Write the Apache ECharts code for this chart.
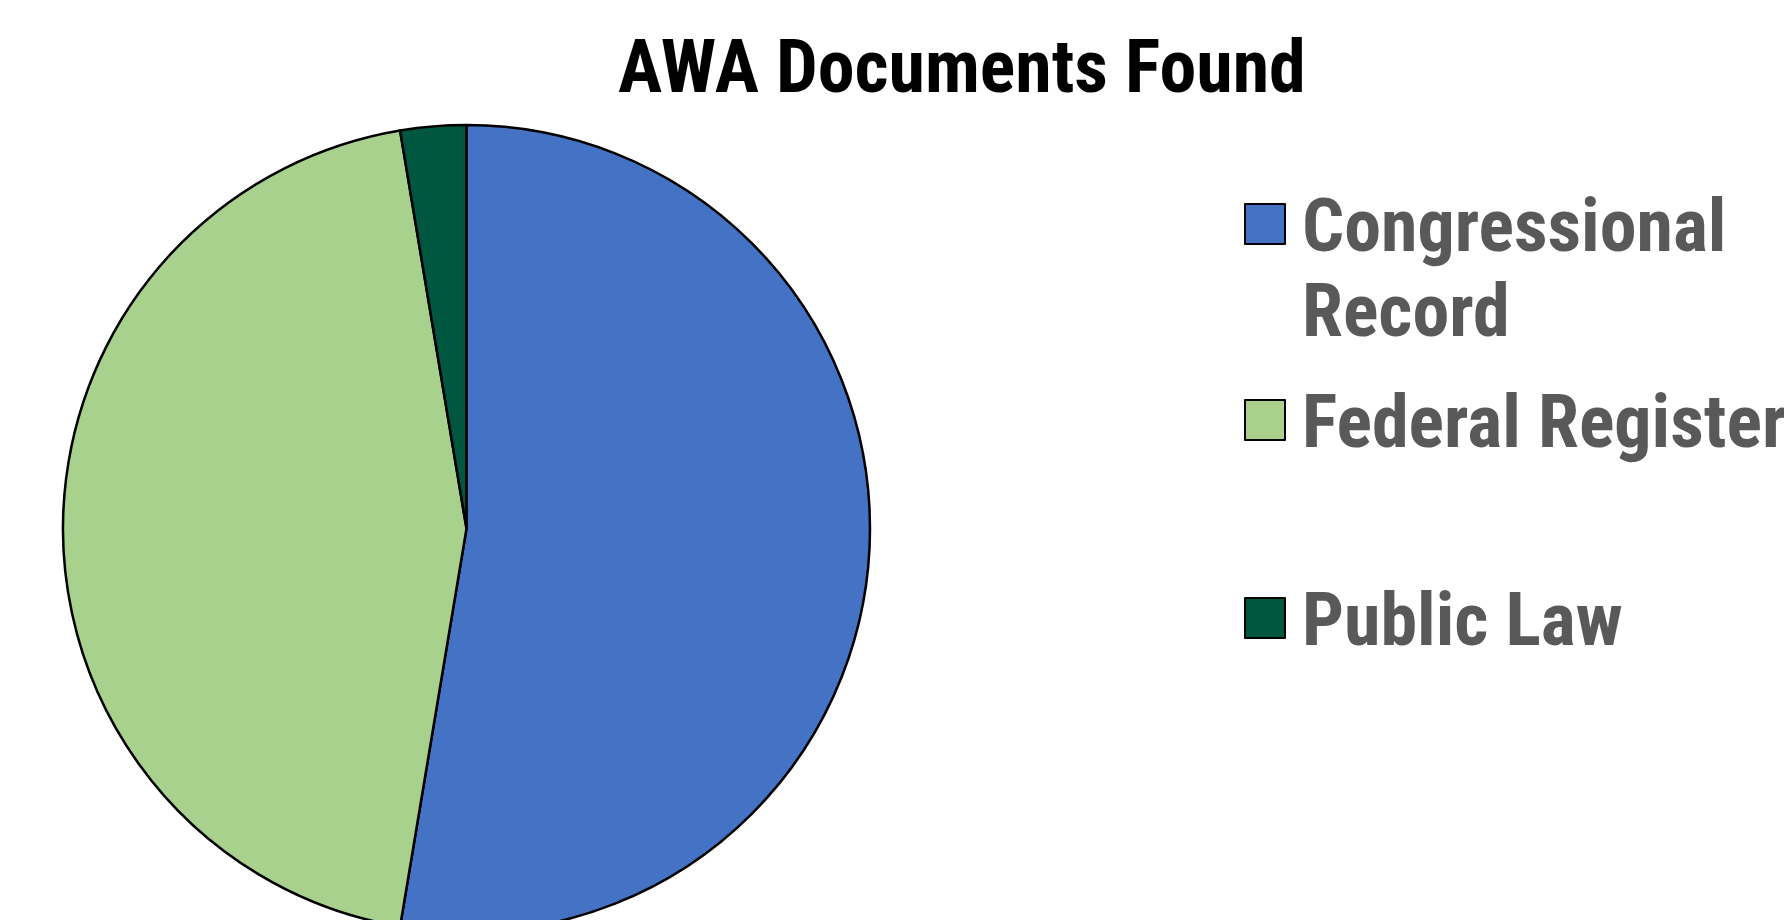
<!DOCTYPE html>
<html>
<head>
<meta charset="utf-8">
<script src="https://cdn.jsdelivr.net/npm/echarts@6/dist/echarts.min.js"></script>
<style>
html,body{margin:0;padding:0;background:#fff;}
#c{width:1784px;height:920px;}
</style>
</head>
<body>
<div id="c"></div>
<script>
const titleText = 'AWA Documents Found';
const categories = ['Congressional Record', 'Federal Register', 'Public Law'];
const legendLines = [['Congressional', 'Record'], ['Federal Register'], ['Public Law']];
const values = [20, 17, 1];
const colors = ['#4472C4', '#A9D18E', '#00573F'];

const FONT = '"Roboto Condensed", "Liberation Sans Narrow", "Arial Narrow", sans-serif';
const chart = echarts.init(document.getElementById('c'), null, {renderer: 'canvas'});

const LH = 85;      // legend line height
const SHIFT = 16;   // extra spacer so glyphs sit centred on the icon
const iconCenters = [224, 420, 618];
const legends = categories.map((name, i) => {
  const lines = legendLines[i];
  const spacer = SHIFT + LH * (lines.length - 1);
  const block = spacer + LH * lines.length;
  return {
    data: [name],
    orient: 'vertical',
    left: 1244,
    top: iconCenters[i] - block / 2,
    padding: 0,
    itemGap: 0,
    icon: 'rect',
    itemWidth: 40,
    itemHeight: 40,
    selectedMode: false,
    formatter: () => '{s| }\n' + lines.map(l => '{t|' + l + '}').join('\n'),
    textStyle: {
      color: '#595959',
      fontFamily: FONT,
      fontWeight: 'bold',
      fontSize: 74,
      padding: [0, 0, 0, 12],
      rich: {
        s: {fontSize: 4, lineHeight: spacer, height: spacer},
        t: {color: '#595959', fontFamily: FONT, fontWeight: 'bold', fontSize: 74, lineHeight: LH}
      }
    }
  };
});

chart.setOption({
  animation: false,
  backgroundColor: '#ffffff',
  title: {
    text: titleText,
    left: 618,
    top: 36,
    padding: 0,
    textStyle: {
      color: '#000000',
      fontFamily: FONT,
      fontWeight: 'bold',
      fontSize: 74
    }
  },
  legend: legends,
  series: [{
    type: 'pie',
    center: [466.5, 528.5],
    radius: 403.5,
    startAngle: 90,
    clockwise: true,
    silent: true,
    label: {show: false},
    labelLine: {show: false},
    emphasis: {disabled: true},
    itemStyle: {borderColor: '#000000', borderWidth: 2.5},
    data: categories.map((name, i) => ({
      name: name,
      value: values[i],
      itemStyle: {color: colors[i]}
    }))
  }]
});
</script>
</body>
</html>
